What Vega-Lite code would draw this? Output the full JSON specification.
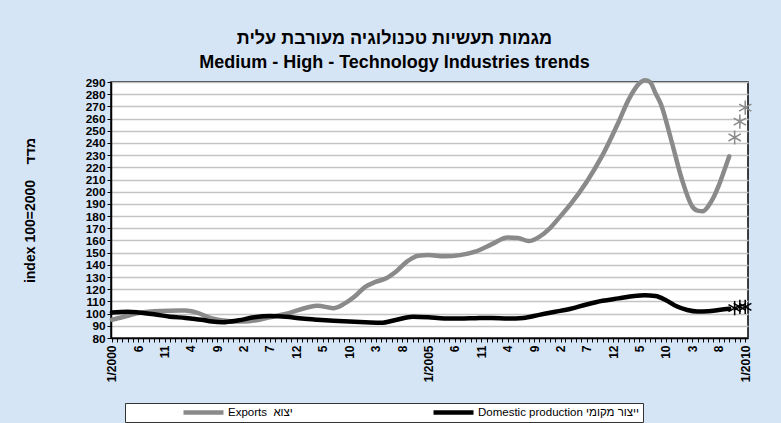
{
  "$schema": "https://vega.github.io/schema/vega-lite/v6.json",
  "width": 637,
  "height": 256,
  "autosize": {"type": "none"},
  "padding": {"left": 111, "top": 82, "right": 33, "bottom": 85},
  "background": "#d6e5f6",
  "config": {
    "font": "Liberation Sans",
    "view": {"fill": "white", "stroke": "#000000", "strokeWidth": 1.5},
    "axis": {"labelFont": "Liberation Sans", "titleFont": "Liberation Sans", "labelColor": "#000", "titleColor": "#000", "domainColor": "#000", "tickColor": "#000"}
  },
  "title": {
    "text": ["מגמות תעשיות טכנולוגיה מעורבת עלית", "Medium - High - Technology Industries trends"],
    "font": "Liberation Sans",
    "fontSize": 18,
    "fontWeight": "bold",
    "color": "#000",
    "anchor": "middle",
    "frame": "group",
    "dx": -35,
    "offset": -1,
    "lineHeight": 24
  },
  "data": {
    "values": [
      {"date": "2000-01-01", "series": "Exports\u00a0\u00a0יצוא", "kind": "actual", "value": 95},
      {"date": "2000-03-01", "series": "Exports\u00a0\u00a0יצוא", "kind": "actual", "value": 97},
      {"date": "2000-06-01", "series": "Exports\u00a0\u00a0יצוא", "kind": "actual", "value": 100.5},
      {"date": "2000-09-01", "series": "Exports\u00a0\u00a0יצוא", "kind": "actual", "value": 102},
      {"date": "2000-12-01", "series": "Exports\u00a0\u00a0יצוא", "kind": "actual", "value": 102.4},
      {"date": "2001-03-01", "series": "Exports\u00a0\u00a0יצוא", "kind": "actual", "value": 102.5},
      {"date": "2001-05-01", "series": "Exports\u00a0\u00a0יצוא", "kind": "actual", "value": 101},
      {"date": "2001-08-01", "series": "Exports\u00a0\u00a0יצוא", "kind": "actual", "value": 96},
      {"date": "2001-11-01", "series": "Exports\u00a0\u00a0יצוא", "kind": "actual", "value": 94},
      {"date": "2002-02-01", "series": "Exports\u00a0\u00a0יצוא", "kind": "actual", "value": 93.5},
      {"date": "2002-05-01", "series": "Exports\u00a0\u00a0יצוא", "kind": "actual", "value": 95},
      {"date": "2002-07-01", "series": "Exports\u00a0\u00a0יצוא", "kind": "actual", "value": 97},
      {"date": "2002-11-01", "series": "Exports\u00a0\u00a0יצוא", "kind": "actual", "value": 101},
      {"date": "2003-02-01", "series": "Exports\u00a0\u00a0יצוא", "kind": "actual", "value": 105},
      {"date": "2003-04-01", "series": "Exports\u00a0\u00a0יצוא", "kind": "actual", "value": 106.5},
      {"date": "2003-07-01", "series": "Exports\u00a0\u00a0יצוא", "kind": "actual", "value": 104.5},
      {"date": "2003-09-01", "series": "Exports\u00a0\u00a0יצוא", "kind": "actual", "value": 108},
      {"date": "2003-11-01", "series": "Exports\u00a0\u00a0יצוא", "kind": "actual", "value": 114},
      {"date": "2004-01-01", "series": "Exports\u00a0\u00a0יצוא", "kind": "actual", "value": 122},
      {"date": "2004-03-01", "series": "Exports\u00a0\u00a0יצוא", "kind": "actual", "value": 126},
      {"date": "2004-05-01", "series": "Exports\u00a0\u00a0יצוא", "kind": "actual", "value": 129},
      {"date": "2004-07-01", "series": "Exports\u00a0\u00a0יצוא", "kind": "actual", "value": 135},
      {"date": "2004-09-01", "series": "Exports\u00a0\u00a0יצוא", "kind": "actual", "value": 143},
      {"date": "2004-11-01", "series": "Exports\u00a0\u00a0יצוא", "kind": "actual", "value": 147.5},
      {"date": "2005-01-01", "series": "Exports\u00a0\u00a0יצוא", "kind": "actual", "value": 148},
      {"date": "2005-04-01", "series": "Exports\u00a0\u00a0יצוא", "kind": "actual", "value": 147},
      {"date": "2005-07-01", "series": "Exports\u00a0\u00a0יצוא", "kind": "actual", "value": 148},
      {"date": "2005-10-01", "series": "Exports\u00a0\u00a0יצוא", "kind": "actual", "value": 151},
      {"date": "2006-01-01", "series": "Exports\u00a0\u00a0יצוא", "kind": "actual", "value": 157},
      {"date": "2006-04-01", "series": "Exports\u00a0\u00a0יצוא", "kind": "actual", "value": 162.5},
      {"date": "2006-06-01", "series": "Exports\u00a0\u00a0יצוא", "kind": "actual", "value": 162},
      {"date": "2006-08-01", "series": "Exports\u00a0\u00a0יצוא", "kind": "actual", "value": 159.5},
      {"date": "2006-10-01", "series": "Exports\u00a0\u00a0יצוא", "kind": "actual", "value": 163},
      {"date": "2006-12-01", "series": "Exports\u00a0\u00a0יצוא", "kind": "actual", "value": 170},
      {"date": "2007-02-01", "series": "Exports\u00a0\u00a0יצוא", "kind": "actual", "value": 180},
      {"date": "2007-04-01", "series": "Exports\u00a0\u00a0יצוא", "kind": "actual", "value": 190},
      {"date": "2007-07-01", "series": "Exports\u00a0\u00a0יצוא", "kind": "actual", "value": 208},
      {"date": "2007-10-01", "series": "Exports\u00a0\u00a0יצוא", "kind": "actual", "value": 230},
      {"date": "2008-01-01", "series": "Exports\u00a0\u00a0יצוא", "kind": "actual", "value": 257},
      {"date": "2008-03-01", "series": "Exports\u00a0\u00a0יצוא", "kind": "actual", "value": 276},
      {"date": "2008-05-01", "series": "Exports\u00a0\u00a0יצוא", "kind": "actual", "value": 289},
      {"date": "2008-06-01", "series": "Exports\u00a0\u00a0יצוא", "kind": "actual", "value": 291.5},
      {"date": "2008-07-01", "series": "Exports\u00a0\u00a0יצוא", "kind": "actual", "value": 290},
      {"date": "2008-08-01", "series": "Exports\u00a0\u00a0יצוא", "kind": "actual", "value": 281},
      {"date": "2008-09-01", "series": "Exports\u00a0\u00a0יצוא", "kind": "actual", "value": 272},
      {"date": "2008-11-01", "series": "Exports\u00a0\u00a0יצוא", "kind": "actual", "value": 242},
      {"date": "2009-01-01", "series": "Exports\u00a0\u00a0יצוא", "kind": "actual", "value": 210},
      {"date": "2009-03-01", "series": "Exports\u00a0\u00a0יצוא", "kind": "actual", "value": 188},
      {"date": "2009-04-01", "series": "Exports\u00a0\u00a0יצוא", "kind": "actual", "value": 184.5},
      {"date": "2009-05-01", "series": "Exports\u00a0\u00a0יצוא", "kind": "actual", "value": 184},
      {"date": "2009-06-01", "series": "Exports\u00a0\u00a0יצוא", "kind": "actual", "value": 188},
      {"date": "2009-07-01", "series": "Exports\u00a0\u00a0יצוא", "kind": "actual", "value": 195},
      {"date": "2009-08-01", "series": "Exports\u00a0\u00a0יצוא", "kind": "actual", "value": 205},
      {"date": "2009-09-01", "series": "Exports\u00a0\u00a0יצוא", "kind": "actual", "value": 217},
      {"date": "2009-10-01", "series": "Exports\u00a0\u00a0יצוא", "kind": "actual", "value": 229},
      {"date": "2009-11-01", "series": "Exports\u00a0\u00a0יצוא", "kind": "forecast", "value": 244.5},
      {"date": "2009-12-01", "series": "Exports\u00a0\u00a0יצוא", "kind": "forecast", "value": 257.5},
      {"date": "2010-01-01", "series": "Exports\u00a0\u00a0יצוא", "kind": "forecast", "value": 269},
      {"date": "2000-01-01", "series": "Domestic production ייצור מקומי", "kind": "actual", "value": 101},
      {"date": "2000-04-01", "series": "Domestic production ייצור מקומי", "kind": "actual", "value": 101.5},
      {"date": "2000-06-01", "series": "Domestic production ייצור מקומי", "kind": "actual", "value": 101},
      {"date": "2000-09-01", "series": "Domestic production ייצור מקומי", "kind": "actual", "value": 99.5},
      {"date": "2000-12-01", "series": "Domestic production ייצור מקומי", "kind": "actual", "value": 97.5},
      {"date": "2001-03-01", "series": "Domestic production ייצור מקומי", "kind": "actual", "value": 96.5},
      {"date": "2001-06-01", "series": "Domestic production ייצור מקומי", "kind": "actual", "value": 95},
      {"date": "2001-08-01", "series": "Domestic production ייצור מקומי", "kind": "actual", "value": 93.5},
      {"date": "2001-10-01", "series": "Domestic production ייצור מקומי", "kind": "actual", "value": 93},
      {"date": "2002-01-01", "series": "Domestic production ייצור מקומי", "kind": "actual", "value": 94.5},
      {"date": "2002-04-01", "series": "Domestic production ייצור מקומי", "kind": "actual", "value": 97},
      {"date": "2002-07-01", "series": "Domestic production ייצור מקומי", "kind": "actual", "value": 98},
      {"date": "2002-10-01", "series": "Domestic production ייצור מקומי", "kind": "actual", "value": 97.5},
      {"date": "2003-01-01", "series": "Domestic production ייצור מקומי", "kind": "actual", "value": 96},
      {"date": "2003-04-01", "series": "Domestic production ייצור מקומי", "kind": "actual", "value": 95},
      {"date": "2003-07-01", "series": "Domestic production ייצור מקומי", "kind": "actual", "value": 94.2},
      {"date": "2003-10-01", "series": "Domestic production ייצור מקומי", "kind": "actual", "value": 93.5},
      {"date": "2004-01-01", "series": "Domestic production ייצור מקומי", "kind": "actual", "value": 93},
      {"date": "2004-04-01", "series": "Domestic production ייצור מקומי", "kind": "actual", "value": 92.5},
      {"date": "2004-07-01", "series": "Domestic production ייצור מקומי", "kind": "actual", "value": 95},
      {"date": "2004-10-01", "series": "Domestic production ייצור מקומי", "kind": "actual", "value": 97.5},
      {"date": "2005-01-01", "series": "Domestic production ייצור מקומי", "kind": "actual", "value": 97},
      {"date": "2005-04-01", "series": "Domestic production ייצור מקומי", "kind": "actual", "value": 96},
      {"date": "2005-07-01", "series": "Domestic production ייצור מקומי", "kind": "actual", "value": 96},
      {"date": "2005-10-01", "series": "Domestic production ייצור מקומי", "kind": "actual", "value": 96.3},
      {"date": "2006-01-01", "series": "Domestic production ייצור מקומי", "kind": "actual", "value": 96.5},
      {"date": "2006-04-01", "series": "Domestic production ייצור מקומי", "kind": "actual", "value": 96},
      {"date": "2006-07-01", "series": "Domestic production ייצור מקומי", "kind": "actual", "value": 96.5},
      {"date": "2006-10-01", "series": "Domestic production ייצור מקומי", "kind": "actual", "value": 99},
      {"date": "2007-01-01", "series": "Domestic production ייצור מקומי", "kind": "actual", "value": 101.5},
      {"date": "2007-04-01", "series": "Domestic production ייצור מקומי", "kind": "actual", "value": 104},
      {"date": "2007-07-01", "series": "Domestic production ייצור מקומי", "kind": "actual", "value": 107.5},
      {"date": "2007-10-01", "series": "Domestic production ייצור מקומי", "kind": "actual", "value": 110.5},
      {"date": "2008-01-01", "series": "Domestic production ייצור מקומי", "kind": "actual", "value": 112.5},
      {"date": "2008-04-01", "series": "Domestic production ייצור מקומי", "kind": "actual", "value": 114.5},
      {"date": "2008-06-01", "series": "Domestic production ייצור מקומי", "kind": "actual", "value": 115},
      {"date": "2008-08-01", "series": "Domestic production ייצור מקומי", "kind": "actual", "value": 114.5},
      {"date": "2008-10-01", "series": "Domestic production ייצור מקומי", "kind": "actual", "value": 111},
      {"date": "2008-12-01", "series": "Domestic production ייצור מקומי", "kind": "actual", "value": 106},
      {"date": "2009-02-01", "series": "Domestic production ייצור מקומי", "kind": "actual", "value": 103},
      {"date": "2009-04-01", "series": "Domestic production ייצור מקומי", "kind": "actual", "value": 101.8},
      {"date": "2009-06-01", "series": "Domestic production ייצור מקומי", "kind": "actual", "value": 102},
      {"date": "2009-08-01", "series": "Domestic production ייצור מקומי", "kind": "actual", "value": 103},
      {"date": "2009-10-01", "series": "Domestic production ייצור מקומי", "kind": "actual", "value": 104},
      {"date": "2009-11-01", "series": "Domestic production ייצור מקומי", "kind": "forecast", "value": 104.5},
      {"date": "2009-12-01", "series": "Domestic production ייצור מקומי", "kind": "forecast", "value": 105.5},
      {"date": "2010-01-01", "series": "Domestic production ייצור מקומי", "kind": "forecast", "value": 105.5}
    ]
  },
  "encoding": {
    "x": {
      "field": "date",
      "type": "temporal",
      "scale": {"type": "utc", "domain": [{"year": 1999, "month": 12, "date": 27, "utc": true}, {"year": 2010, "month": 1, "date": 17, "utc": true}]},
      "axis": {
        "title": null,
        "grid": false,
        "tickCount": {"interval": "month", "step": 1},
        "tickSize": 4,
        "tickWidth": 1,
        "domainWidth": 1.5,
        "labelAngle": -90,
        "labelAlign": "right",
        "labelBaseline": "middle",
        "labelFontSize": 12,
        "labelFontWeight": "bold",
        "labelPadding": 3,
        "labelOverlap": false,
        "labelFlush": false,
        "labelBound": false,
        "labelExpr": "((utcyear(datum.value) - 2000) * 12 + utcmonth(datum.value)) % 5 == 0 ? (utcmonth(datum.value) == 0 ? '1/' + utcyear(datum.value) : '' + (utcmonth(datum.value) + 1)) : ''"
      }
    },
    "y": {
      "field": "value",
      "type": "quantitative",
      "scale": {"domain": [80, 290], "nice": false, "zero": false},
      "axis": {
        "values": [80, 90, 100, 110, 120, 130, 140, 150, 160, 170, 180, 190, 200, 210, 220, 230, 240, 250, 260, 270, 280, 290],
        "title": "index 100=2000\u00a0\u00a0\u00a0\u00a0מדד",
        "titleFontSize": 14,
        "titleFontWeight": "bold",
        "titleX": -81,
        "titleY": 128,
        "titleAngle": -90,
        "titleAlign": "center",
        "titleBaseline": "middle",
        "labelFontSize": 11.8,
        "labelFontWeight": "bold",
        "labelPadding": 2,
        "labelOverlap": false,
        "labelFlush": false,
        "tickSize": 4,
        "domainWidth": 1.5,
        "gridColor": "#c4c4c4",
        "gridWidth": 1.3
      }
    },
    "color": {
      "field": "series",
      "type": "nominal",
      "sort": ["Exports\u00a0\u00a0יצוא", "Domestic production ייצור מקומי"],
      "scale": {"domain": ["Exports\u00a0\u00a0יצוא", "Domestic production ייצור מקומי"], "range": ["#8a8a8a", "#000000"]},
      "legend": {
        "title": null,
        "orient": "none",
        "legendX": 14,
        "legendY": 321,
        "direction": "horizontal",
        "columns": 2,
        "columnPadding": 85,
        "symbolType": "stroke",
        "symbolSize": 1600,
        "clipHeight": 13,
        "symbolStrokeWidth": 4.5,
        "symbolOffset": 53,
        "labelOffset": 2,
        "labelFontSize": 11.5,
        "labelFont": "Liberation Sans",
        "labelColor": "#000",
        "labelLimit": 300,
        "fillColor": "white",
        "strokeColor": "#333",
        "padding": 3,
        "offset": 0
      }
    }
  },
  "layer": [
    {
      "transform": [{"filter": "datum.kind == 'actual'"}],
      "mark": {"type": "line", "interpolate": "monotone", "strokeWidth": 4.5, "strokeCap": "round"}
    },
    {
      "transform": [{"filter": "datum.kind == 'forecast'"}],
      "mark": {"type": "point", "shape": "M0,-1L0,1M-0.87,-0.5L0.87,0.5M-0.87,0.5L0.87,-0.5", "size": 200, "filled": false, "strokeWidth": 1.5, "opacity": 1}
    }
  ]
}
